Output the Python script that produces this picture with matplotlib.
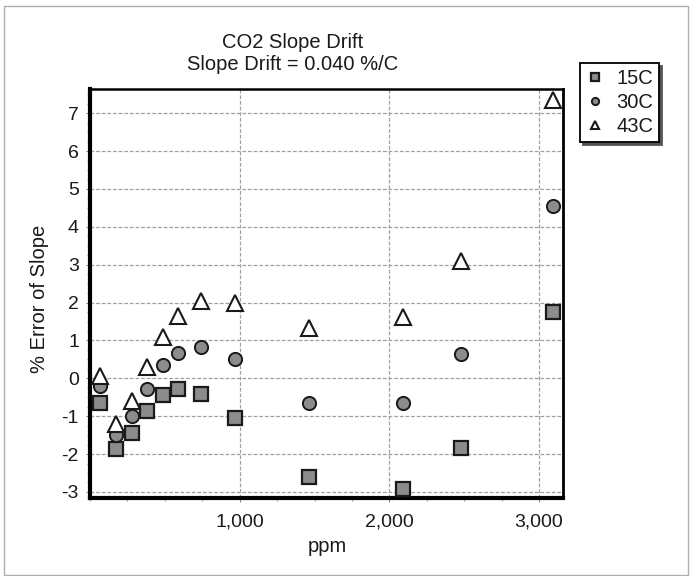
import matplotlib
matplotlib.use("Agg")
import matplotlib.pyplot as plt
from matplotlib.patches import Rectangle
from matplotlib.ticker import MultipleLocator, FuncFormatter

plt.rcParams['font.family'] = ['Liberation Sans', 'DejaVu Sans']
plt.rcParams['axes.unicode_minus'] = False

# data
ppm = [65, 175, 280, 380, 487, 587, 740, 967, 1460, 2090, 2480, 3093]
err_15c = [-0.64, -1.86, -1.44, -0.85, -0.45, -0.27, -0.42, -1.06, -2.6, -2.92, -1.83, 1.75]
err_30c = [-0.19, -1.5, -1.0, -0.29, 0.34, 0.66, 0.83, 0.52, -0.64, -0.64, 0.63, 4.56]
err_43c = [0.05, -1.2, -0.6, 0.29, 1.1, 1.65, 2.03, 2.0, 1.33, 1.63, 3.1, 7.35]
series_labels = ['15C', '30C', '43C']
title_lines = ['CO2 Slope Drift', 'Slope Drift = 0.040 %/C']
x_ticks = [1000, 2000, 3000]
y_ticks = [-3, -2, -1, 0, 1, 2, 3, 4, 5, 6, 7]

W, H = 690, 576
fig = plt.figure(figsize=(W / 100, H / 100), dpi=100)
ax = fig.add_axes([90 / W, 1 - 498 / H, (563 - 90) / W, (498 - 89) / H])

ink = '#1a1a1a'
fs = 14.5

ax.plot(ppm, err_15c, linestyle='none', marker='s', ms=10.5, mfc='#8c8c8c',
        mec=ink, mew=1.6, label=series_labels[0], zorder=3)
ax.plot(ppm, err_30c, linestyle='none', marker='o', ms=9.5, mfc='#8c8c8c',
        mec=ink, mew=1.4, label=series_labels[1], zorder=3)
ax.plot(ppm, err_43c, linestyle='none', marker='^', ms=11, mfc='white',
        mec=ink, mew=1.5, label=series_labels[2], zorder=3)

ax.set_xlim(0, 3160)
ax.set_ylim(-3.16, 7.64)
ax.set_xticks(x_ticks)
ax.set_yticks(y_ticks)
ax.xaxis.set_minor_locator(MultipleLocator(250))
ax.yaxis.set_minor_locator(MultipleLocator(0.25))
ax.xaxis.set_major_formatter(FuncFormatter(lambda v, p: f'{int(v):,}'))

ax.grid(True, which='major', color='#a0a0a0', linewidth=0.9, linestyle=(0, (3, 1.5)))
ax.set_axisbelow(True)

ax.tick_params(which='both', direction='out', color='#888888', labelsize=14,
               labelcolor=ink)
ax.tick_params(axis='y', which='major', length=3, width=0.8, pad=5)
ax.tick_params(axis='y', which='minor', length=2, width=0.6)
ax.tick_params(axis='x', which='major', length=3, width=0.8, pad=8)
ax.tick_params(axis='x', which='minor', length=2, width=0.6)

for side, lw in [('left', 3.0), ('bottom', 3.0), ('top', 1.8), ('right', 2.0)]:
    ax.spines[side].set_linewidth(lw)
    ax.spines[side].set_color('black')

fig.text(293 / W, 1 - 42 / H, title_lines[0], ha='center', va='center',
         fontsize=fs, color=ink)
fig.text(293 / W, 1 - 64 / H, title_lines[1], ha='center', va='center',
         fontsize=fs, color=ink)
fig.text(40 / W, 1 - 299 / H, '% Error of Slope', ha='center', va='center',
         rotation=90, fontsize=fs, color=ink)
fig.text(327 / W, 1 - 546 / H, 'ppm', ha='center', va='center',
         fontsize=fs, color=ink)

leg = ax.legend(loc='upper left', bbox_to_anchor=(580 / W, 1 - 63 / H),
                bbox_transform=fig.transFigure, borderaxespad=0, fontsize=fs,
                markerscale=0.55, handlelength=0.9, handletextpad=0.6,
                labelspacing=0.25, borderpad=0.3, fancybox=False,
                shadow={'color': '#555555', 'alpha': 1}, framealpha=1)
leg.get_frame().set_edgecolor('black')
leg.get_frame().set_linewidth(1.3)
for t in leg.get_texts():
    t.set_color(ink)

# faint outer border of the scanned page
fig.patches.append(Rectangle((4 / W, 1 - 575 / H), 684 / W, 569 / H,
                             transform=fig.transFigure, fill=False,
                             edgecolor='#b0b0b0', linewidth=1.0))

fig.savefig('out.png', dpi=100)
